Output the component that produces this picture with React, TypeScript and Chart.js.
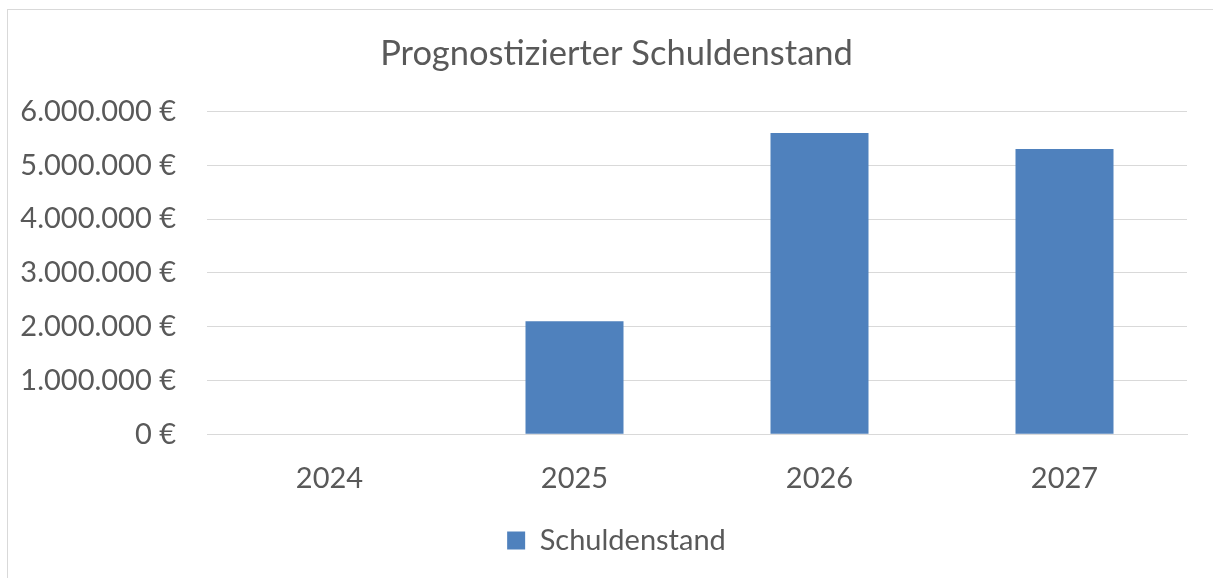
import React, { useEffect, useRef } from "react";
import { Chart, registerables } from "chart.js";

Chart.register(...registerables);

const categories = ["2024", "2025", "2026", "2027"];
const schuldenstand = [0, 2100000, 5600000, 5300000];
const seriesLabel = "Schuldenstand";
const chartTitle = "Prognostizierter Schuldenstand";
const yMin = 0;
const yMax = 6000000;
const yStep = 1000000;

const FONT = "Lato, 'Open Sans', sans-serif";
const TEXT = "#595959";
const GRID = "#d9d9d9";
const BAR = "#4f81bd";

function formatEuro(v: number): string {
  const s = Math.round(v).toString().replace(/\B(?=(\d{3})+(?!\d))/g, ".");
  return s + " €";
}

// Centre title and legend over the whole chart frame (as in the original),
// not only over the padded layout area.
const centerShift = {
  id: "centerShift",
  afterLayout(chart: any) {
    const d = 38;
    const boxes = [chart.legend, chart.titleBlock];
    for (const b of boxes) {
      if (b) b.left += d;
    }
  },
};

export default function App() {
  const ref = useRef<HTMLCanvasElement | null>(null);

  useEffect(() => {
    document.body.style.overflow = "hidden";
    if (!ref.current) return;
    const chart = new Chart(ref.current, {
      type: "bar",
      data: {
        labels: categories,
        datasets: [
          {
            label: seriesLabel,
            data: schuldenstand,
            backgroundColor: BAR,
            borderWidth: 0,
            barPercentage: 0.4,
            categoryPercentage: 1,
          },
        ],
      },
      plugins: [centerShift],
      options: {
        responsive: false,
        animation: false,
        layout: { padding: { left: 0, right: 26, top: 0, bottom: 13 } },
        plugins: {
          title: {
            display: true,
            text: chartTitle,
            color: TEXT,
            font: { family: FONT, size: 34.5, weight: "normal" },
            padding: { top: 23, bottom: 37 },
          },
          legend: {
            display: true,
            position: "bottom",
            labels: {
              color: TEXT,
              font: { family: FONT, size: 29 },
              boxWidth: 18,
              boxHeight: 18,
              padding: 2,
            },
          },
          tooltip: { enabled: false },
        },
        scales: {
          x: {
            grid: { display: false, drawTicks: false },
            border: { display: true, color: GRID, width: 1 },
            ticks: {
              color: TEXT,
              font: { family: FONT, size: 29, lineHeight: 1.062 },
              padding: 29.5,
            },
          },
          y: {
            min: yMin,
            max: yMax,
            grid: { color: GRID, lineWidth: 1, drawTicks: false },
            border: { display: false },
            ticks: {
              stepSize: yStep,
              color: TEXT,
              font: { family: FONT, size: 29 },
              padding: 31,
              callback: (v: any) => formatEuro(Number(v)),
            },
            afterFit: (scale: any) => {
              scale.width = 199;
            },
          },
        },
      },
    });
    return () => chart.destroy();
  }, []);

  return (
    <div
      style={{
        position: "absolute",
        left: 7,
        top: 9,
        width: 1206,
        height: 569,
        borderLeft: "1px solid #d9d9d9",
        borderTop: "1px solid #d9d9d9",
        boxSizing: "border-box",
        background: "#fff",
      }}
    >
      <canvas ref={ref} width={1205} height={568} style={{ display: "block", width: 1205, height: 568 }} />
    </div>
  );
}
